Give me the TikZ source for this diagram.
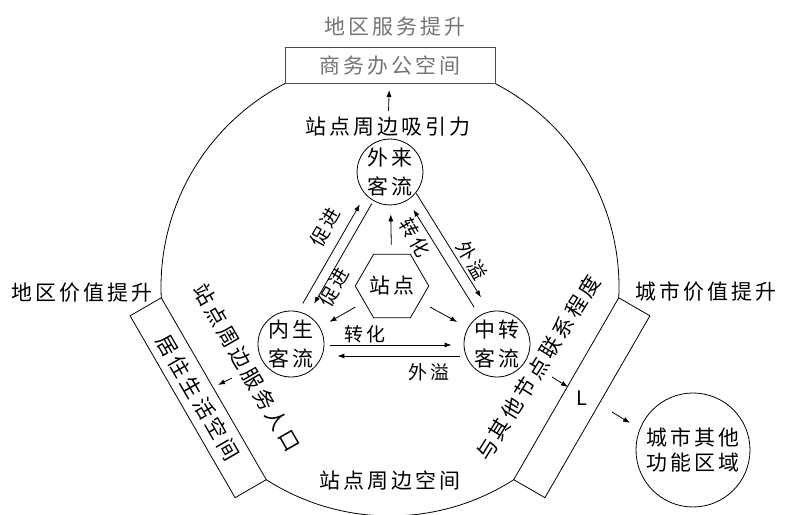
\documentclass[tikz,border=0pt]{standalone}
\usepackage{fontspec}
\setmainfont{Noto Sans CJK SC}[LetterSpace=15]
\usepackage{tikz}
\usetikzlibrary{shapes.geometric,calc,arrows.meta}
\usetikzlibrary{positioning}
\tikzstyle{ring}=[
  >={Latex[length=7bp,width=5bp]}, line width=0.8bp, x=1bp, y=1bp
]
\tikzstyle{flow}=[
  draw,circle,inner sep=0pt,minimum size=64bp,align=center,
  font=\fontsize{21}{29}\selectfont
]
\tikzstyle{hubnode}=[
  draw,regular polygon,regular polygon sides=6,inner sep=0pt,minimum size=73bp,
  font=\fontsize{21}{25}\selectfont
]
\tikzstyle{strip}=[
  draw,rectangle,inner sep=0pt,minimum width=210bp,minimum height=36bp,
  font=\fontsize{21}{25}\selectfont
]
\tikzstyle{biglabel}=[
  inner sep=2bp,font=\fontsize{21}{25}\selectfont
]
\tikzstyle{smalllabel}=[
  inner sep=1bp,font=\fontsize{19}{22}\selectfont
]
\tikzstyle{faded}=[
  text=black!55
]

\begin{document}
\begin{tikzpicture}[ring]
    \useasboundingbox (0,0) rectangle (785,515);
    \coordinate (c) at (390,228);
    % ring of the station area, broken by the three strips
    \draw (c) ++(117.3:229) arc[start angle=117.3,end angle=182.7,radius=229];
    \draw (c) ++(237.3:229) arc[start angle=237.3,end angle=302.7,radius=229];
    \draw (c) ++(357.3:229) arc[start angle=357.3,end angle=422.7,radius=229];
    \node (office) at ($(c)+(90:221.5)$) [strip,draw=black!70,faded] {商务办公空间};
    \node (living) at ($(c)+(210:221.5)$) [strip,rotate=-60] {居住生活空间};
    \node (citystrip) at ($(c)+(330:221.5)$) [strip,rotate=60] {};
    \node (l) at (citystrip) [biglabel,font=\rmfamily\fontsize{20}{24}\selectfont] {L};

    \node (regsvc) at (395,488) [biglabel,faded] {地区服务提升};
    \node (attract) at (388,388) [biglabel] {站点周边吸引力};
    \node (regval) at (82,222) [biglabel] {地区价值提升};
    \node (cityval) at (706,223) [biglabel] {城市价值提升};
    \node (space) at (390,34) [biglabel] {站点周边空间};
    \node (serve) at (247,147) [biglabel,rotate=-60] {站点周边服务人口};
    \node (link) at (538,147) [biglabel,rotate=58] {与其他节点联系程度};
    \node (other) at (693,65) [flow,minimum size=114bp,font=\fontsize{21}{25}\selectfont] {城市其他\\功能区域};

    \node (ext) at (390,343) [flow] {外来\\客流};
    \node (endo) at (291,171) [flow,minimum size=66bp] {内生\\客流};
    \node (trans) at (497,171) [flow,minimum size=66bp] {中转\\客流};
    \node (hub) at (392,229) [hubnode] {站点};

    \draw [->,shorten <=4bp,shorten >=6bp] (attract) -- (office);
    \draw [->,shorten <=9bp,shorten >=9bp] (hub) -- (ext);
    \draw [->,shorten <=10bp,shorten >=11bp] (hub) -- (endo);
    \draw [->,shorten <=11bp,shorten >=12bp] (hub) -- (trans);

    % endogenous <-> transfer
    \draw [->,shorten <=6bp,shorten >=12bp] ([yshift=-1bp]endo.east) -- ([yshift=-1bp]trans.west);
    \draw [<-,shorten <=13bp,shorten >=4bp] ([yshift=-12bp]endo.east) -- ([yshift=-12bp]trans.west);
    \node (conv1) at (365,181) [smalllabel] {转化};
    \node (spill1) at (429,143) [smalllabel] {外溢};

    % endogenous <-> external
    \draw [->,shorten <=41bp,shorten >=43bp] ($(endo)!10bp!90:(ext)$) -- ($(ext)!10bp!-90:(endo)$);
    \draw [<-,shorten <=13bp,shorten >=3bp] (endo) -- (ext);
    \node (prom1) at (325,288) [smalllabel,rotate=60] {促进};
    \node (prom2) at (334,228) [smalllabel,rotate=60] {促进};

    % external <-> transfer
    \draw [->,shorten <=32bp,shorten >=48bp] ($(ext)!11bp!90:(trans)$) -- ($(trans)!11bp!-90:(ext)$);
    \draw [->,shorten <=10bp,shorten >=11bp] (trans) -- (ext);
    \node (conv2) at (415,277) [smalllabel,rotate=-60] {转化};
    \node (spill2) at (472,254) [smalllabel,rotate=-60] {外溢};

    % short arrows towards the strips
    \coordinate (serveout) at (232,137);
    \coordinate (servein) at (218,130);
    \coordinate (linkout) at (552,138);
    \coordinate (linkin) at (568,128);
    \coordinate (cityout) at (612,103);
    \coordinate (cityin) at (630,92);
    \draw [->] (serveout) -- (servein);
    \draw [->] (linkout) -- (linkin);
    \draw [->] (cityout) -- (cityin);
\end{tikzpicture}
\end{document}
